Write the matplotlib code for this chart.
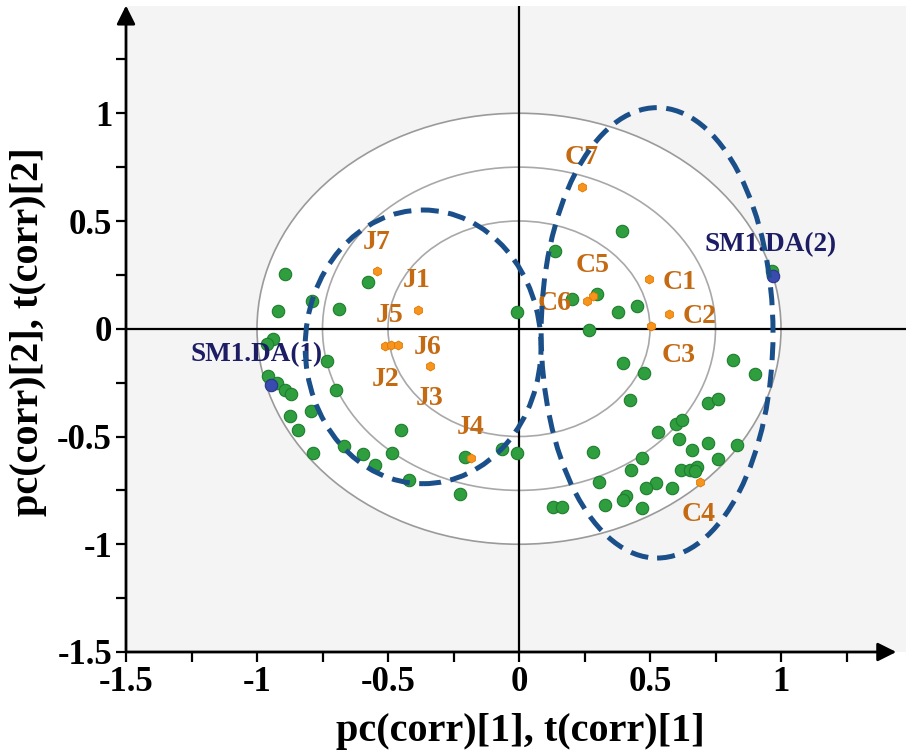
import matplotlib
matplotlib.use("Agg")
import matplotlib.pyplot as plt
from matplotlib.patches import Circle, Ellipse

# --- données ---
vert_x = [-0.893, -0.575, -0.919, -0.791, -0.686, -0.009, -0.938, -0.963, -0.734,
          -0.957, -0.925, -0.893, -0.871, -0.698, -0.874, -0.795, -0.842, -0.450,
          -0.785, -0.667, -0.594, -0.550, -0.486, -0.419, -0.206, -0.066, -0.009,
          -0.225,
          0.392, 0.137, 0.201, 0.299, 0.449, 0.379, 0.268, 0.398, 0.477, 0.424,
          0.815, 0.901, 0.723, 0.761, 0.964, 0.532, 0.599, 0.621, 0.612, 0.281,
          0.661, 0.720, 0.831, 0.761, 0.468, 0.427, 0.618, 0.653, 0.678, 0.672,
          0.305, 0.522, 0.485, 0.583, 0.408, 0.398, 0.328, 0.468, 0.131, 0.163]
vert_y = [0.254, 0.219, 0.084, 0.127, 0.090, 0.076, -0.048, -0.071, -0.149,
          -0.219, -0.254, -0.285, -0.304, -0.284, -0.405, -0.381, -0.471, -0.468,
          -0.575, -0.544, -0.583, -0.630, -0.575, -0.704, -0.595, -0.560, -0.575,
          -0.769,
          0.452, 0.360, 0.138, 0.161, 0.104, 0.076, -0.006, -0.161, -0.206, -0.332,
          -0.146, -0.211, -0.343, -0.327, 0.270, -0.478, -0.440, -0.425, -0.513, -0.571,
          -0.563, -0.532, -0.541, -0.606, -0.598, -0.656, -0.656, -0.657, -0.640, -0.660,
          -0.712, -0.718, -0.741, -0.741, -0.774, -0.795, -0.820, -0.834, -0.826, -0.826]

noms_var = ["J1", "J2", "J3", "J4", "J5", "J6", "J7",
            "C1", "C2", "C3", "C4", "C5", "C6", "C7"]
var_x = [-0.384, -0.510, -0.340, -0.183, -0.490, -0.461, -0.543,
         0.496, 0.573, 0.504, 0.691, 0.281, 0.258, 0.239]
var_y = [0.087, -0.080, -0.175, -0.598, -0.075, -0.076, 0.267,
         0.229, 0.068, 0.011, -0.712, 0.150, 0.130, 0.660]

noms_da = ["SM1.DA(1)", "SM1.DA(2)"]
da_x = [-0.947, 0.971]
da_y = [-0.260, 0.247]

# décalages des étiquettes (points)
decal = {"J1": (-1, 21), "J2": (0, -24), "J3": (0, -23), "J4": (0, 22),
         "J5": (-1, 21), "J6": (21, -2), "J7": (0, 21),
         "C1": (22, -2), "C2": (22, -2), "C3": (20, -21), "C4": (-1, -23),
         "C5": (0, 22), "C6": (-23, -2), "C7": (0, 21),
         "SM1.DA(1)": (-10, 22), "SM1.DA(2)": (-2, 22)}

police = "Liberation Serif"
orange_txt = "#c46a12"
bleu_txt = "#1d1d66"
bleu_trait = "#1b4f8a"

fig = plt.figure(figsize=(9.06, 7.54), dpi=100)
ax = fig.add_axes([126 / 906, 102 / 754, 786 / 906, 646.5 / 754])
ax.set_xlim(-1.5, 1.5)
ax.set_ylim(-1.5, 1.5)
ax.set_facecolor("#f4f4f4")

# cercles de corrélation
ax.add_patch(Circle((0, 0), 1.0, facecolor="white", edgecolor="#9a9a9a", lw=1.2, zorder=1))
for r in (0.75, 0.5):
    ax.add_patch(Circle((0, 0), r, facecolor="none", edgecolor="#a8a8a8", lw=1.2, zorder=1))

ax.axhline(0, color="black", lw=1.6, zorder=2)
ax.axvline(0, color="black", lw=1.6, zorder=2)

ax.scatter(vert_x, vert_y, s=80, color="#2e9e3e", edgecolors="#1f7d2e", linewidths=0.8, zorder=3)
ax.scatter(var_x, var_y, s=42, marker="h", color="#f7941d", edgecolors="#e07800", linewidths=0.6, zorder=4)
ax.scatter(da_x, da_y, s=80, color="#3a4bb0", edgecolors="#28358a", linewidths=0.8, zorder=4)

for nom, x, y in zip(noms_var, var_x, var_y):
    ax.annotate(nom, (x, y), xytext=decal[nom], textcoords="offset points",
                ha="center", va="center", fontsize=20, fontweight="bold",
                family=police, color=orange_txt, zorder=5)
for nom, x, y in zip(noms_da, da_x, da_y):
    ax.annotate(nom, (x, y), xytext=decal[nom], textcoords="offset points",
                ha="center", va="center", fontsize=19.5, fontweight="bold",
                family=police, color=bleu_txt, zorder=5)

# ellipses en pointillés
for (cx, cy), w, h in [((-0.366, -0.084), 0.90, 1.27), ((0.527, -0.019), 0.885, 2.09)]:
    ax.add_patch(Ellipse((cx, cy), w, h, fill=False, edgecolor=bleu_trait, lw=3.6,
                         linestyle=(0, (3.6, 1.9)), zorder=6))

# axes avec flèches
for s in ax.spines.values():
    s.set_visible(False)
ax.annotate("", xy=(-1.5, 1.5), xytext=(-1.5, -1.5), annotation_clip=False,
            arrowprops=dict(arrowstyle="-|>", color="black", lw=2, mutation_scale=28,
                            shrinkA=0, shrinkB=0), zorder=7)
ax.annotate("", xy=(1.44, -1.5), xytext=(-1.5, -1.5), annotation_clip=False,
            arrowprops=dict(arrowstyle="-|>", color="black", lw=2, mutation_scale=28,
                            shrinkA=0, shrinkB=0), zorder=7)

graduations = [-1.5, -1, -0.5, 0, 0.5, 1]
etiquettes = ["-1.5", "-1", "-0.5", "0", "0.5", "1"]
mineures = [-1.25, -0.75, -0.25, 0.25, 0.75, 1.25]
ax.set_xticks(graduations, etiquettes)
ax.set_yticks(graduations, etiquettes)
ax.set_xticks(mineures, minor=True)
ax.set_yticks(mineures, minor=True)
ax.tick_params(which="both", direction="out", length=7, width=1.6, color="black",
               top=False, right=False)
ax.tick_params(axis="both", labelsize=25, pad=3)
for lab in ax.get_xticklabels() + ax.get_yticklabels():
    lab.set_family(police)
    lab.set_fontweight("bold")

fig.text(520 / 906, 1 - 732 / 754, "pc(corr)[1], t(corr)[1]", ha="center", va="center",
         fontsize=29, fontweight="bold", family=police)
fig.text(29 / 906, 1 - 332 / 754, "pc(corr)[2], t(corr)[2]", ha="center", va="center",
         rotation=90, fontsize=29, fontweight="bold", family=police)

fig.savefig("out.png", dpi=100)
